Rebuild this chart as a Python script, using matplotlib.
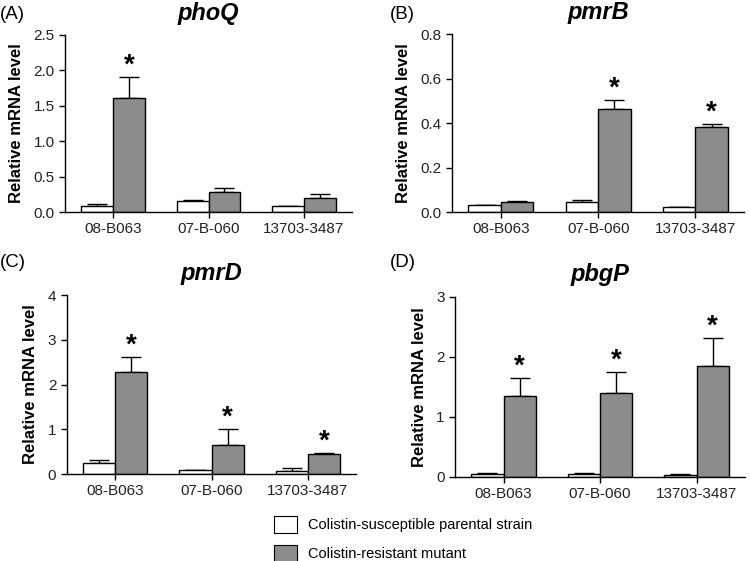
import matplotlib
matplotlib.use('Agg')
import numpy as np
import matplotlib.pyplot as plt
from matplotlib.patches import Patch

plt.rcParams['font.family'] = ['Liberation Sans', 'DejaVu Sans']

strains = ['08-B063', '07-B-060', '13703-3487']

# phoQ
phoq_par = [0.09, 0.16, 0.08]
phoq_par_err = [0.02, 0.015, 0.0]
phoq_res = [1.61, 0.28, 0.20]
phoq_res_err = [0.30, 0.06, 0.05]
phoq_star = [True, False, False]

# pmrB
pmrb_par = [0.030, 0.046, 0.021]
pmrb_par_err = [0.002, 0.006, 0.0]
pmrb_res = [0.046, 0.463, 0.382]
pmrb_res_err = [0.002, 0.042, 0.015]
pmrb_star = [False, True, True]

# pmrD
pmrd_par = [0.245, 0.10, 0.06]
pmrd_par_err = [0.07, 0.0, 0.07]
pmrd_res = [2.275, 0.647, 0.45]
pmrd_res_err = [0.335, 0.353, 0.02]
pmrd_star = [True, True, True]

# pbgP
pbgp_par = [0.05, 0.05, 0.03]
pbgp_par_err = [0.01, 0.01, 0.01]
pbgp_res = [1.35, 1.39, 1.85]
pbgp_res_err = [0.30, 0.36, 0.46]
pbgp_star = [True, True, True]

panels = [
    ('(A)', 'phoQ', phoq_par, phoq_par_err, phoq_res, phoq_res_err, phoq_star,
     [0, 0.5, 1.0, 1.5, 2.0, 2.5], '%.1f'),
    ('(B)', 'pmrB', pmrb_par, pmrb_par_err, pmrb_res, pmrb_res_err, pmrb_star,
     [0, 0.2, 0.4, 0.6, 0.8], '%.1f'),
    ('(C)', 'pmrD', pmrd_par, pmrd_par_err, pmrd_res, pmrd_res_err, pmrd_star,
     [0, 1, 2, 3, 4], '%d'),
    ('(D)', 'pbgP', pbgp_par, pbgp_par_err, pbgp_res, pbgp_res_err, pbgp_star,
     [0, 1, 2, 3], '%d'),
]

# axes boxes [left, bottom, width, height] in figure fraction
boxes = [
    [0.087, 0.622, 0.382, 0.316],
    [0.603, 0.622, 0.389, 0.317],
    [0.089, 0.155, 0.386, 0.319],
    [0.607, 0.150, 0.386, 0.321],
]
label_pos = [(0.0, 0.99), (0.52, 0.99), (0.0, 0.548), (0.52, 0.548)]

gray = '#8c8c8c'
w = 0.333

fig = plt.figure(figsize=(7.5, 5.61), dpi=100)

for i, (plab, gene, par, parerr, res, reserr, star, yt, fmt) in enumerate(panels):
    ax = fig.add_axes(boxes[i])
    x = np.arange(len(strains))
    ax.bar(x - w / 2, par, w, color='white', edgecolor='black', linewidth=1.0, zorder=2)
    ax.bar(x + w / 2, res, w, color=gray, edgecolor='black', linewidth=1.0, zorder=2)
    ax.errorbar(x - w / 2, par, yerr=[np.zeros(3), parerr], fmt='none',
                ecolor='black', elinewidth=1.0, capsize=7, capthick=1.0, zorder=1)
    ax.errorbar(x + w / 2, res, yerr=[np.zeros(3), reserr], fmt='none',
                ecolor='black', elinewidth=1.0, capsize=7, capthick=1.0, zorder=1)
    ymax = yt[-1]
    for j in range(3):
        if star[j]:
            ax.text(x[j] + w / 2, res[j] + reserr[j] - ymax * 0.01, '*',
                    ha='center', va='bottom', fontsize=20, fontweight='bold')
    ax.set_xlim(-0.5, 2.5)
    ax.set_ylim(0, ymax)
    ax.set_yticks(yt)
    ax.set_yticklabels([fmt % v for v in yt])
    ax.set_xticks(x)
    ax.set_xticklabels(strains)
    ax.spines['top'].set_visible(False)
    ax.spines['right'].set_visible(False)
    ax.spines['left'].set_linewidth(1.0)
    ax.spines['bottom'].set_linewidth(1.0)
    ax.tick_params(axis='both', direction='out', length=4, width=1.0,
                   labelsize=11, colors='black', labelcolor='#222222')
    ax.set_ylabel('Relative mRNA level', fontsize=12, fontweight='bold', labelpad=7)
    ax.set_title(gene, fontsize=17, fontweight='bold', style='italic', pad=11)
    fig.text(label_pos[i][0], label_pos[i][1], plab, fontsize=13.5, va='top', ha='left')

handles = [Patch(facecolor='white', edgecolor='black', linewidth=0.8),
           Patch(facecolor=gray, edgecolor='black', linewidth=0.8)]
fig.legend(handles, ['Colistin-susceptible parental strain', 'Colistin-resistant mutant'],
           loc='lower left', bbox_to_anchor=(0.348, -0.025), frameon=False,
           fontsize=10.5, handlelength=1.6, handleheight=1.4, labelspacing=0.85,
           handletextpad=0.7)

fig.savefig('out.png', dpi=100)
